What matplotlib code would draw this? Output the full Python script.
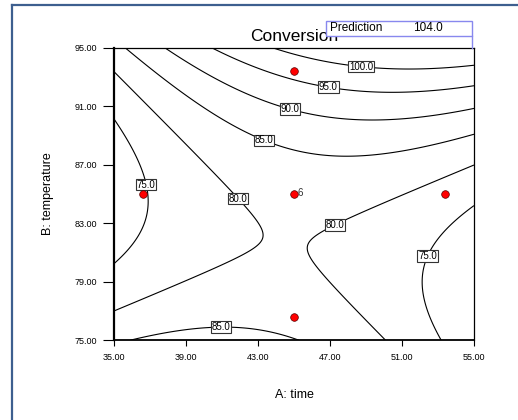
import numpy as np
import matplotlib.pyplot as plt
plt.switch_backend('agg')
from matplotlib.lines import Line2D
from matplotlib.patches import Rectangle

plt.rcParams['font.family'] = ['Liberation Sans', 'DejaVu Sans']

# fitted quadratic model (coded units)
# order: const, A, B, A^2, B^2, AB
coef = [81.5, 1.03, 4.04, -1.83, 2.94, 2.13]
time_center, time_step = 45.0, 5.0
temp_center, temp_step = 85.0, 5.0

levels = [75, 80, 85, 90, 95, 100]

# design points shown on the plot
pt_time = [36.59, 45.0, 53.41, 45.0, 45.0]
pt_temp = [85.0, 85.0, 85.0, 76.59, 93.41]
center_reps = '6'

# where the contour labels sit
label_pos = [(48.76, 94.16), (46.96, 92.69), (44.87, 91.14), (43.43, 88.93),
             (36.87, 85.66), (41.96, 84.75), (47.18, 83.1), (52.22, 80.87),
             (40.94, 76.21)]

xticks = [35, 39, 43, 47, 51, 55]
yticks = [75, 79, 83, 87, 91, 95]
prediction = '104.0'

fig = plt.figure(figsize=(5.18, 4.2), dpi=100)
ax = fig.add_axes([0.220, 0.190, 0.695, 0.696])

t = np.linspace(35, 55, 300)
T = np.linspace(75, 95, 300)
X, Y = np.meshgrid(t, T)
a = (X - time_center) / time_step
b = (Y - temp_center) / temp_step
Z = coef[0] + coef[1]*a + coef[2]*b + coef[3]*a**2 + coef[4]*b**2 + coef[5]*a*b

cs = ax.contour(X, Y, Z, levels=levels, colors='black', linewidths=0.8)
lbls = ax.clabel(cs, fmt='%.1f', fontsize=7, inline=False, manual=label_pos)
for lb in lbls:
    lb.set_rotation(0)
    lb.set_bbox(dict(boxstyle='square,pad=0.08', fc='white', ec='#333333', lw=0.8))
    lb.set_zorder(5)

ax.plot(pt_time, pt_temp, 'o', color='red', mec='#550000', mew=0.5, markersize=5.5, zorder=6)
ax.annotate(center_reps, (pt_time[1], pt_temp[1]), xytext=(2.5, 1), textcoords='offset points',
            fontsize=7, color='#333333', va='center', ha='left', zorder=6)

ax.set_xlim(35, 55)
ax.set_ylim(75, 95)
ax.set_xticks(xticks)
ax.set_yticks(yticks)
ax.set_xticklabels(['%.2f' % v for v in xticks])
ax.set_yticklabels(['%.2f' % v for v in yticks])
ax.tick_params(axis='y', direction='out', length=8, width=0.8, labelsize=6.5, pad=4)
ax.tick_params(axis='x', direction='out', length=4, width=0.8, labelsize=6.5, pad=5)
ax.spines['left'].set_linewidth(1.6)
ax.spines['bottom'].set_linewidth(1.3)
ax.spines['top'].set_linewidth(0.9)
ax.spines['right'].set_linewidth(0.9)

ax.set_xlabel('A: time', fontsize=9, labelpad=20)
ax.set_ylabel('B: temperature', fontsize=9, labelpad=15)
ax.set_title('Conversion', fontsize=12.5, pad=5)

# prediction flag at the top right corner
bx0, by0, bx1, by1 = 326/518, 1-35.7/420, 472/518, 1-20.5/420
fig.patches.append(Rectangle((bx0, by0), bx1-bx0, by1-by0, transform=fig.transFigure,
                             fc='white', ec='#8888ee', lw=1, zorder=10))
fig.lines.append(Line2D([bx1, bx1], [by0, 1-48/420], transform=fig.transFigure,
                        color='#8888ee', lw=1, zorder=10))
fig.text(bx0+0.008, (by0+by1)/2, 'Prediction', fontsize=8.5, va='center', ha='left', zorder=11)
fig.text(0.797, (by0+by1)/2, prediction, fontsize=8.5, va='center', ha='left', zorder=11)

# outer blue frame
fx, fy = 11.5/518, 1-5/420
fig.lines.append(Line2D([fx, fx], [0, fy], transform=fig.transFigure, color='#3d5f8f', lw=1.6))
fig.lines.append(Line2D([fx, 1], [fy, fy], transform=fig.transFigure, color='#3d5f8f', lw=1.6))

plt.savefig('out.png', dpi=100)
